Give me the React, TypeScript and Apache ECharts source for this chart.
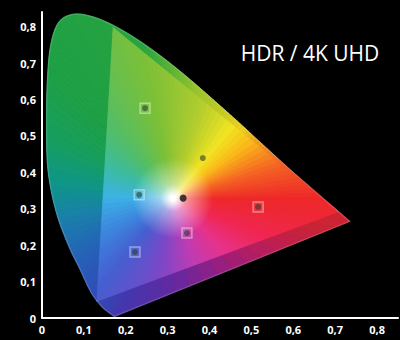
import React, { useEffect, useRef } from "react";
import * as echarts from "echarts";

// ---- data ----
const title = "HDR / 4K UHD";
// spectral locus (blue end -> red end)
const locusX = [0.1741, 0.1714, 0.1644, 0.1566, 0.144, 0.1241, 0.1096, 0.0913, 0.063, 0.033, 0.014, 0.011, 0.013, 0.021, 0.04, 0.0743, 0.1142, 0.1547, 0.1929, 0.2296, 0.2658, 0.3016, 0.3373, 0.3731, 0.4087, 0.4441, 0.4788, 0.5125, 0.5448, 0.5752, 0.6029, 0.627, 0.6658, 0.6915, 0.7079, 0.719, 0.73, 0.7347];
const locusY = [0.005, 0.0051, 0.0109, 0.0177, 0.0297, 0.0578, 0.0868, 0.1327, 0.2, 0.295, 0.41, 0.54, 0.655, 0.75, 0.812, 0.8338, 0.829, 0.812, 0.789, 0.763, 0.734, 0.703, 0.67, 0.635, 0.599, 0.563, 0.527, 0.491, 0.457, 0.425, 0.3965, 0.3725, 0.334, 0.3083, 0.292, 0.2809, 0.27, 0.2653];
// gamut triangle (R, G, B)
const gamutX = [0.708, 0.17, 0.131];
const gamutY = [0.292, 0.797, 0.046];
const whitePoint = [0.3127, 0.329];
const squarePoints = [[0.246, 0.576], [0.232, 0.338], [0.346, 0.233], [0.222, 0.181], [0.516, 0.305]];
const dotPoints = [[0.246, 0.576], [0.384, 0.439], [0.232, 0.338], [0.346, 0.233], [0.222, 0.181], [0.516, 0.305]];
const blackPoints = [[0.337, 0.329]];
const lightPoints = [[0.315, 0.329]];

// ---- colour tables (style) ----
const INNER: number[][] = [
  [0, 238, 40, 40], [20, 245, 100, 35], [40, 250, 185, 25], [55, 242, 228, 35], [75, 180, 205, 45],
  [100, 125, 192, 55], [125, 85, 190, 100], [150, 60, 188, 160], [180, 60, 178, 230], [210, 60, 135, 222],
  [235, 70, 95, 208], [260, 120, 72, 200], [285, 190, 60, 180], [310, 230, 50, 140], [335, 240, 38, 80],
  [360, 238, 40, 40],
];
const OUTER: number[][] = [
  [0, 212, 38, 45], [20, 240, 95, 35], [50, 235, 210, 30], [80, 150, 195, 45], [100, 40, 165, 65],
  [130, 30, 160, 70], [150, 22, 158, 95], [170, 15, 150, 135], [190, 25, 130, 168], [210, 35, 105, 182],
  [235, 48, 78, 185], [250, 72, 52, 172], [270, 100, 40, 160], [300, 150, 30, 130], [330, 188, 30, 85],
  [345, 200, 35, 55], [360, 212, 38, 45],
];

function lookup(table: number[][], ang: number): number[] {
  let a = ang % 360;
  if (a < 0) a += 360;
  for (let i = 0; i < table.length - 1; i++) {
    const p = table[i], q = table[i + 1];
    if (a >= p[0] && a <= q[0]) {
      const t = (a - p[0]) / (q[0] - p[0] || 1);
      return [0, 1, 2].map((k) => Math.round(p[k + 1] + (q[k + 1] - p[k + 1]) * t));
    }
  }
  return [255, 255, 255];
}
const rgb = (c: number[]) => `rgb(${c[0]},${c[1]},${c[2]})`;
const mix = (c: number[], w: number) => c.map((v) => Math.round(v + (255 - v) * w));
const angleOf = (p: number[]) => (Math.atan2(p[1] - whitePoint[1], p[0] - whitePoint[0]) * 180) / Math.PI;

function fmt(v: number) {
  if (v === 0) return "0";
  return v.toFixed(1).replace(".", ",");
}

// Catmull-Rom smoothing of an open outline (drawing geometry only)
function smoothOutline(p: number[][], sub: number): number[][] {
  const out: number[][] = [];
  for (let i = 0; i < p.length - 1; i++) {
    const p0 = p[Math.max(i - 1, 0)], p1 = p[i], p2 = p[i + 1], p3 = p[Math.min(i + 2, p.length - 1)];
    for (let s = 0; s < sub; s++) {
      const t = s / sub, t2 = t * t, t3 = t2 * t;
      out.push([0, 1].map((k) =>
        0.5 * (2 * p1[k] + (-p0[k] + p2[k]) * t + (2 * p0[k] - 5 * p1[k] + 4 * p2[k] - p3[k]) * t2 + (-p0[k] + 3 * p1[k] - 3 * p2[k] + p3[k]) * t3)
      ));
    }
  }
  out.push(p[p.length - 1]);
  return out;
}

export default function App() {
  const ref = useRef<HTMLDivElement>(null);
  useEffect(() => {
    document.body.style.margin = "0";
    document.body.style.background = "#000";
    const chart = echarts.init(ref.current!, undefined, { renderer: "svg" });

    const renderItem = (_params: any, api: any) => {
      const W = api.coord(whitePoint);
      const children: any[] = [];
      // outer region: fan from white point to spectral locus + purple line
      const loc = locusX.map((x, i) => [x, locusY[i]]);
      const smooth = smoothOutline(loc, 5);
      const pts = [...smooth];
      const a = loc[loc.length - 1], b = loc[0];
      const n = 16;
      for (let k = 1; k <= n; k++) {
        const t = k / n;
        pts.push([a[0] + (b[0] - a[0]) * t, a[1] + (b[1] - a[1]) * t]);
      }
      for (let i = 0; i < pts.length - 1; i++) {
        const P = pts[i], Q = pts[i + 1];
        const M = [(P[0] + Q[0]) / 2, (P[1] + Q[1]) / 2];
        const col = rgb(lookup(OUTER, angleOf(M)));
        children.push({
          type: "polygon",
          shape: { points: [W, api.coord(P), api.coord(Q)] },
          style: { fill: col, stroke: col, lineWidth: 1 },
        });
      }
      // inner gamut triangle: fan with gradient from white
      const tri = gamutX.map((x, i) => [x, gamutY[i]]);
      const seg = 48;
      for (let e = 0; e < 3; e++) {
        const A = tri[e], B = tri[(e + 1) % 3];
        for (let k = 0; k < seg; k++) {
          const t0 = k / seg, t1 = (k + 1) / seg;
          const P = [A[0] + (B[0] - A[0]) * t0, A[1] + (B[1] - A[1]) * t0];
          const Q = [A[0] + (B[0] - A[0]) * t1, A[1] + (B[1] - A[1]) * t1];
          const M = [(P[0] + Q[0]) / 2, (P[1] + Q[1]) / 2];
          const hue = lookup(INNER, angleOf(M));
          const Mp = api.coord(M);
          const L = Math.hypot(Mp[0] - W[0], Mp[1] - W[1]) || 1;
          const s1 = Math.min(3 / L, 0.15);
          const s2 = Math.min(13 / L, 0.4);
          const s3 = Math.min(40 / L, 0.85);
          const grad = new echarts.graphic.LinearGradient(
            W[0], W[1], Mp[0], Mp[1],
            [
              { offset: 0, color: "#ffffff" },
              { offset: s1, color: "#fcfcfc" },
              { offset: s2, color: rgb(mix(hue, 0.5)) },
              { offset: s3, color: rgb(hue) },
              { offset: 1, color: rgb(hue) },
            ],
            true
          );
          children.push({
            type: "polygon",
            shape: { points: [W, api.coord(P), api.coord(Q)] },
            style: { fill: grad, stroke: grad, lineWidth: 0.8 },
          });
        }
      }
      // soft rim
      children.push({
        type: "polygon",
        shape: { points: smooth.map((p) => api.coord(p)) },
        style: { fill: "none", stroke: "rgba(255,255,255,0.16)", lineWidth: 1.5 },
      });
      return { type: "group", children };
    };

    const axisCommon = {
      type: "value" as const,
      min: 0,
      interval: 0.1,
      axisLine: { show: true, onZero: false, lineStyle: { color: "#ffffff", width: 2 } },
      axisTick: { show: false },
      splitLine: { show: false },
    };
    const labelCommon = {
      color: "#ffffff",
      fontSize: 11,
      fontWeight: "bold" as const,
      fontFamily: "Open Sans",
      showMaxLabel: false,
      formatter: (v: number) => fmt(v),
    };

    chart.setOption({
      animation: false,
      backgroundColor: "#000000",
      grid: { left: 42, top: 12, width: 356, height: 306 },
      xAxis: { ...axisCommon, max: 0.85, axisLabel: { ...labelCommon, margin: 6 } },
      yAxis: { ...axisCommon, max: 0.84, axisLabel: { ...labelCommon, margin: 6 } },
      graphic: [
        {
          type: "text",
          x: 310,
          y: 53,
          style: {
            text: title,
            fill: "#ffffff",
            fontSize: 21,
            fontFamily: "Open Sans",
            align: "center",
            verticalAlign: "middle",
          },
        },
      ],
      series: [
        { type: "custom", data: [[0, 0]], renderItem, silent: true, clip: false, z: 1 },
        {
          type: "scatter",
          data: squarePoints,
          symbol: "rect",
          symbolSize: 10,
          silent: true,
          z: 3,
          itemStyle: { color: "rgba(255,255,255,0.08)", borderColor: "rgba(255,255,255,0.5)", borderWidth: 1.5 },
        },
        {
          type: "scatter",
          data: dotPoints,
          symbol: "circle",
          symbolSize: 6,
          silent: true,
          z: 4,
          itemStyle: { color: "rgba(45,60,45,0.75)" },
        },
        {
          type: "scatter",
          data: blackPoints,
          symbol: "circle",
          symbolSize: 7,
          silent: true,
          z: 4,
          itemStyle: { color: "#111111" },
        },
        {
          type: "scatter",
          data: lightPoints,
          symbol: "circle",
          symbolSize: 5,
          silent: true,
          z: 4,
          itemStyle: { color: "rgba(255,255,255,0.9)" },
        },
      ],
    });
    return () => chart.dispose();
  }, []);
  return (
    <div
      ref={ref}
      style={{ position: "fixed", left: 0, top: 0, width: 400, height: 340, background: "#000" }}
    />
  );
}
